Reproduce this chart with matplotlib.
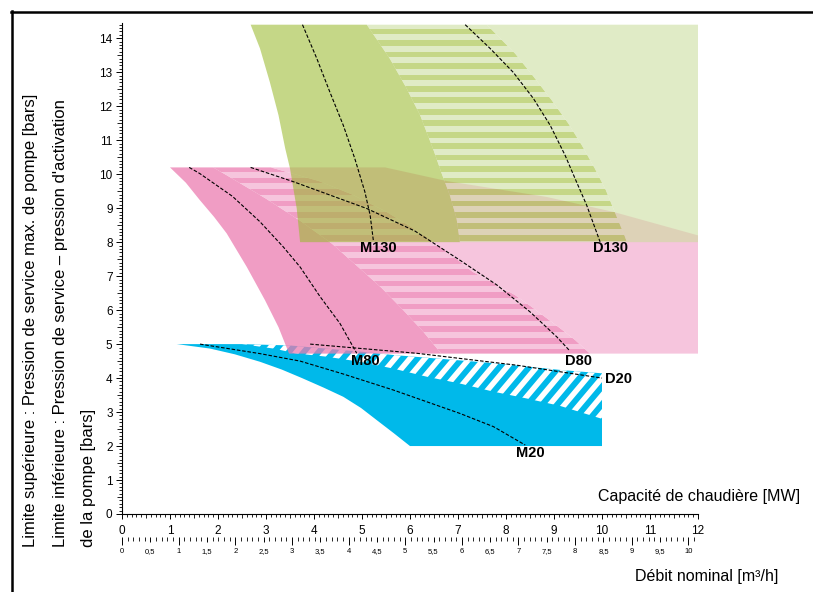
import matplotlib
matplotlib.use('Agg')
import matplotlib.pyplot as plt
from matplotlib.path import Path
from matplotlib.patches import PathPatch, Polygon
from matplotlib.lines import Line2D
from matplotlib.ticker import MultipleLocator, FuncFormatter
from matplotlib.colors import to_rgb
import numpy as np

plt.rcParams['font.family'] = ['Liberation Sans', 'DejaVu Sans']

# ---------------- data (MW on x, bar on y) ----------------
MW_PER_M3H = 1.18

# Pump group 130 (green)
g130_left = [(2.68, 14.4), (2.875, 13.70), (3.08, 12.71), (3.26, 11.74), (3.40, 10.76),
             (3.50, 10.17), (3.64, 8.99), (3.71, 8.0)]
g130_band_right = [(5.1, 14.4), (5.58, 13.40), (5.92, 12.55), (6.21, 11.74), (6.49, 10.71),
                   (6.66, 10.02), (6.83, 9.38), (6.97, 8.70), (7.04, 8.0)]
g130_stripe_right = [(7.60, 14.4), (8.19, 13.55), (8.58, 12.86), (8.95, 12.18), (9.30, 11.49),
                     (9.58, 10.85), (9.85, 10.17), (10.08, 9.53), (10.28, 8.84), (10.47, 8.19),
                     (10.52, 8.0)]
g130_xmax = 12.0
g130_bottom = 8.0
m130 = [(3.76, 14.4), (4.06, 13.40), (4.33, 12.42), (4.61, 11.44), (4.85, 10.46),
        (5.06, 9.48), (5.17, 8.79), (5.24, 8.01)]
d130 = [(7.15, 14.4), (7.67, 13.7), (8.15, 13.0), (8.57, 12.23), (8.92, 11.44),
        (9.23, 10.56), (9.47, 9.77), (9.68, 9.09), (9.96, 8.01)]

# Pump group 80 (pink)
p80_left = [(1.0, 10.2), (1.33, 9.75), (1.62, 9.24), (1.92, 8.74), (2.18, 8.26), (2.60, 7.27),
            (2.98, 6.29), (3.26, 5.5), (3.48, 4.72)]
p80_band_right = [(1.9, 10.2), (2.18, 9.97), (3.0, 9.28), (3.71, 8.63), (4.37, 7.96),
                  (4.92, 7.27), (5.41, 6.65), (5.86, 6.0), (6.28, 5.36), (6.65, 4.72)]
p80_stripe_right = [(3.1, 10.2), (4.1, 9.8), (4.8, 9.4), (5.5, 8.9), (6.2, 8.3), (6.8, 7.7),
                    (7.3, 7.13), (7.77, 6.78), (8.19, 6.44), (8.53, 6.10), (8.85, 5.76),
                    (9.16, 5.43), (9.44, 5.12), (9.71, 4.77), (9.75, 4.72)]
p80_top_right = [(5.48, 10.2), (6.76, 9.8), (8.85, 9.33), (10.24, 8.89), (12.0, 8.2)]
p80_bottom = 4.72
m80 = [(1.40, 10.2), (1.62, 10.02), (2.3, 9.35), (2.875, 8.6), (3.36, 7.86), (3.71, 7.27),
       (4.13, 6.39), (4.54, 5.61), (4.89, 4.73)]
d80 = [(2.68, 10.2), (3.57, 9.78), (5.10, 8.99), (6.10, 8.33), (7.04, 7.47), (7.81, 6.74),
       (8.5, 5.95), (9.06, 5.21), (9.33, 4.8)]

# Pump group 20 (blue)
b20_top = [(1.14, 5.0), (2.5, 5.0), (3.5, 4.96), (4.96, 4.78), (5.65, 4.68), (7.74, 4.44),
           (9.13, 4.24), (10.0, 4.14)]
b20_lower = [(1.14, 5.0), (1.83, 4.87), (2.35, 4.70), (2.875, 4.48), (3.33, 4.25),
             (3.75, 4.0), (4.2, 3.72), (4.61, 3.45), (4.98, 3.12), (5.31, 2.76),
             (5.66, 2.38), (6.0, 2.0)]
b20_bottom_right = [(10.0, 2.0)]
b20_solid_top = [(2.5, 5.0), (3.2, 4.86), (3.6, 4.73), (4.26, 4.63), (4.96, 4.48),
                 (5.65, 4.28), (6.35, 4.04), (7.04, 3.84), (7.74, 3.60), (8.43, 3.40),
                 (9.13, 3.18), (10.0, 2.80)]
m20 = [(1.625, 5.0), (2.875, 4.72), (3.71, 4.5), (4.61, 4.12), (5.65, 3.65), (7.04, 2.96),
       (7.74, 2.57), (8.40, 2.03)]
d20 = [(3.92, 5.0), (6.14, 4.73), (8.22, 4.38), (10.0, 4.0)]

curve_labels = ['M130', 'D130', 'M80', 'D80', 'D20', 'M20']
label_pos = [(5.35, 7.82), (10.17, 7.82), (5.06, 4.49), (9.52, 4.49), (10.35, 3.97), (8.5, 1.79)]

y_ticks = list(range(0, 15))
x_ticks = list(range(0, 13))

# ---------------- style ----------------
GREEN_DARK, GREEN_LIGHT = '#c5d787', '#e1ebc6'
PINK_DARK, PINK_LIGHT = '#f09dc4', '#f7c5dd'
BLUE = '#00b9ea'
A_GREEN, A_PINK = 0.58, 0.75
STRIPE_PERIOD, STRIPE_DARK_CENTER = 0.337, 8.13


def premix(color, alpha):
    rgb = np.array(to_rgb(color))
    return tuple(np.clip((rgb - (1 - alpha)) / alpha, 0, 1))


W, H = 813, 592
fig = plt.figure(figsize=(W / 100, H / 100), dpi=100)
ax = fig.add_axes([122 / W, 1 - 514 / H, (698 - 122) / W, (514 - 23) / H])
ax.set_xlim(0, 12)
ax.set_ylim(0, 14.45)


def poly(pts, color, alpha, z):
    p = Polygon(pts, closed=True, facecolor=premix(color, alpha), edgecolor='none',
                alpha=alpha, zorder=z)
    ax.add_patch(p)
    return p


def rows_path(dark, y0, y1):
    verts, codes = [], []
    h = STRIPE_PERIOD / 2
    start = STRIPE_DARK_CENTER - h / 2 + (0 if dark else h)
    k0 = int(np.floor((y0 - start) / STRIPE_PERIOD)) - 1
    k1 = int(np.ceil((y1 - start) / STRIPE_PERIOD)) + 1
    for k in range(k0, k1):
        a = start + k * STRIPE_PERIOD
        verts += [(-1, a), (13, a), (13, a + h), (-1, a + h), (-1, a)]
        codes += [Path.MOVETO, Path.LINETO, Path.LINETO, Path.LINETO, Path.CLOSEPOLY]
    return Path(verts, codes)


def striped_group(left, band_right, stripe_right, light_outline, dark, light, alpha, z, y0, y1):
    poly(left + band_right[::-1], dark, alpha, z)
    region = Polygon(band_right + stripe_right[::-1], closed=True, transform=ax.transData,
                     facecolor='none', edgecolor='none')
    for is_dark, col in ((True, dark), (False, light)):
        pp = PathPatch(rows_path(is_dark, y0, y1), facecolor=premix(col, alpha),
                       edgecolor='none', alpha=alpha, zorder=z)
        ax.add_patch(pp)
        pp.set_clip_path(region)
    poly(light_outline, light, alpha, z)


# ---- blue group (20) ----
ax.add_patch(Polygon(b20_top + b20_bottom_right + b20_lower[::-1], closed=True,
                     facecolor=BLUE, edgecolor='none', zorder=1))
hatch_region = Polygon(b20_top[1:] + b20_solid_top[::-1], closed=True, transform=ax.transData,
                       facecolor='none', edgecolor='none')
hv, hc = [], []
slope, hp, hw = 1.68, 0.31, 0.15
for u in np.arange(-3, 12, hp):
    ya, yb = 1.5, 5.5
    hv += [(u + ya / slope, ya), (u + hw + ya / slope, ya), (u + hw + yb / slope, yb),
           (u + yb / slope, yb), (u + ya / slope, ya)]
    hc += [Path.MOVETO, Path.LINETO, Path.LINETO, Path.LINETO, Path.CLOSEPOLY]
hatch = PathPatch(Path(hv, hc), facecolor='white', edgecolor='none', zorder=2)
ax.add_patch(hatch)
hatch.set_clip_path(hatch_region)

# ---- pink group (80) ----
pink_light_outline = (p80_stripe_right[::-1] + p80_top_right + [(12.0, p80_bottom)])
striped_group(p80_left, p80_band_right, p80_stripe_right, pink_light_outline,
              PINK_DARK, PINK_LIGHT, A_PINK, 3, p80_bottom, 10.2)

# ---- green group (130) ----
green_light_outline = (g130_stripe_right[::-1] + [(g130_xmax, 14.4), (g130_xmax, g130_bottom)])
striped_group(g130_left, g130_band_right, g130_stripe_right, green_light_outline,
              GREEN_DARK, GREEN_LIGHT, A_GREEN, 4, g130_bottom, 14.4)

# ---- dashed curves ----
for c in (m130, d130, m80, d80, m20, d20):
    xs, ys = zip(*c)
    ax.plot(xs, ys, color='black', lw=0.8, dashes=(3.2, 1.6), zorder=6)

for txt, (x, y) in zip(curve_labels, label_pos):
    ax.text(x, y, txt, fontsize=10.5, fontweight='bold', ha='center', va='center', zorder=7)

# ---- axes ----
for s in ('top', 'right'):
    ax.spines[s].set_visible(False)
for s in ('left', 'bottom'):
    ax.spines[s].set_linewidth(0.8)

ax.set_xticks(x_ticks)
ax.set_yticks(y_ticks)
ax.xaxis.set_minor_locator(MultipleLocator(0.1))
ax.yaxis.set_minor_locator(MultipleLocator(0.1))
ax.tick_params(axis='x', which='major', length=3.6, width=0.7, pad=4, labelsize=8.5)
ax.tick_params(axis='x', which='minor', length=1.8, width=0.6)
ax.tick_params(axis='y', which='major', length=4.3, width=0.7, pad=2.5, labelsize=8.5)
ax.tick_params(axis='y', which='minor', length=2.2, width=0.6)


def comma_fmt(v, pos):
    if abs(v - round(v)) < 1e-6:
        return str(int(round(v)))
    return ('%.1f' % v).replace('.', ',')


sec = ax.secondary_xaxis(-23 / 491, functions=(lambda x: x / MW_PER_M3H,
                                                lambda x: x * MW_PER_M3H))
for s in sec.spines.values():
    s.set_visible(False)
sec.xaxis.set_major_locator(MultipleLocator(0.5))
sec.xaxis.set_minor_locator(MultipleLocator(0.1))
sec.xaxis.set_major_formatter(FuncFormatter(comma_fmt))
sec.tick_params(which='major', length=5.8, width=0.7, pad=2, labelsize=5.5)
sec.tick_params(which='minor', length=2.9, width=0.6)

# ---- texts ----
fig.text(800 / W, 1 - 497 / H, 'Capacité de chaudière [MW]', ha='right', va='center',
         fontsize=11.5)
fig.text(778 / W, 1 - 577 / H, 'Débit nominal [m³/h]', ha='right', va='center',
         fontsize=11.5)
ylines = ['Limite supérieure : Pression de service max. de pompe [bars]',
          "Limite inférieure : Pression de service – pression d'activation",
          'de la pompe [bars]']
for xp, t in zip((31, 60, 88), ylines):
    fig.text(xp / W, 1 - 547 / H, t, rotation=90, rotation_mode='anchor', ha='left',
             va='center', fontsize=12)

# frame
fig.add_artist(Line2D([11 / W, 1.0], [1 - 11.5 / H, 1 - 11.5 / H], color='black', lw=1.8))
fig.add_artist(Line2D([11.5 / W, 11.5 / W], [0.0, 1 - 11 / H], color='black', lw=1.8))

# tick lengths for half steps
fig.canvas.draw()
for t, loc in zip(ax.xaxis.get_minor_ticks(len(ax.xaxis.get_minorticklocs())),
                  ax.xaxis.get_minorticklocs()):
    if abs(loc * 2 - round(loc * 2)) < 1e-6:
        t.tick1line.set_markersize(2.8)
for t, loc in zip(ax.yaxis.get_minor_ticks(len(ax.yaxis.get_minorticklocs())),
                  ax.yaxis.get_minorticklocs()):
    if abs(loc * 2 - round(loc * 2)) < 1e-6:
        t.tick1line.set_markersize(3.3)
for t, loc in zip(sec.xaxis.get_major_ticks(len(sec.xaxis.get_majorticklocs())),
                  sec.xaxis.get_majorticklocs()):
    if abs(loc - round(loc)) > 1e-6:
        t.tick1line.set_markersize(3.8)

fig.savefig('out.png', dpi=100)
